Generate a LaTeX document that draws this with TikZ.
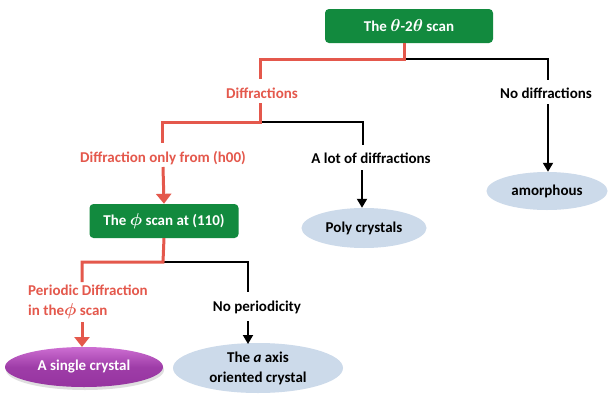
\documentclass[tikz,border=0pt]{standalone}
\usepackage{fontspec}
\setmainfont{Carlito}
\usetikzlibrary{arrows.meta,shapes.geometric,shadows}
\definecolor{gbox}{RGB}{18,138,62}
\definecolor{redl}{RGB}{228,88,76}
\definecolor{blueel}{RGB}{204,218,234}
\definecolor{purp}{RGB}{150,52,160}
\definecolor{purpl}{RGB}{205,110,210}
\newcommand{\lfont}{\bfseries\fontsize{15}{18}\selectfont\mathversion{bold}}
\newcommand{\lfontb}{\bfseries\fontsize{15}{20}\selectfont\mathversion{bold}}
\newcommand{\gsym}[1]{{\fontsize{17}{18}\selectfont$#1$}}
\tikzset{
  gnode/.style={draw=none,fill=gbox,rounded corners=4pt,text=white,font=\lfont,minimum height=34pt,inner sep=0pt},
  lab/.style={font=\lfont,inner sep=0pt},
  rlab/.style={lab,text=redl},
  bell/.style={ellipse,fill=blueel,font=\lfont,inner sep=0pt,align=center},
  rline/.style={draw=redl,line width=3pt},
  bline/.style={draw=black,line width=1.8pt},
  rarr/.style={rline,-{Triangle[width=15pt,length=10pt]}},
  barr/.style={bline,-{Triangle[width=10pt,length=9pt]}}
}
\begin{document}
\begin{tikzpicture}[x=1pt,y=-1pt]
\useasboundingbox[fill=white] (0,0) rectangle (608,399);
% nodes
\node[gnode,minimum width=168pt] (top) at (409,26) {The \gsym{\theta}-2\gsym{\theta} scan};
\node[rlab] (diff) at (262,93) {Diffractions};
\node[lab] (nodiff) at (546,93) {No diffractions};
\node[rlab] (h00) at (163,158) {Diffraction only from (h00)};
\node[lab] (alot) at (371,158) {A lot of diffractions};
\node[gnode,minimum width=149pt] (phi) at (164,221) {The \gsym{\phi} scan at (110)};
\node[bell,minimum width=125pt,minimum height=40pt] (poly) at (364,228) {Poly crystals};
\node[bell,minimum width=121pt,minimum height=38pt] (amor) at (547,191) {amorphous};
\node[rlab,align=left,anchor=west,font=\lfontb] (period) at (28,302) {Periodic Diffraction\\in the\gsym{\phi} scan};
\node[lab] (noper) at (257,307) {No periodicity};
\node[ellipse,minimum width=158pt,minimum height=40pt,inner sep=0pt,
      top color=purpl,bottom color=purp,middle color=purp!85!purpl,
      drop shadow={shadow xshift=1pt,shadow yshift=-3pt,opacity=0.25},
      text=white,font=\lfont] (single) at (84,367) {A single crystal};
\node[bell,minimum width=170pt,minimum height=50pt,font=\lfontb] (aaxis) at (258,368) {The {\itshape a} axis\\oriented crystal};
% coordinates
\coordinate (j1) at (404,59);
\coordinate (j1l) at (260,59);
\coordinate (j1r) at (548,59);
\coordinate (j2) at (260,122);
\coordinate (j2l) at (162,122);
\coordinate (j2r) at (363,122);
\coordinate (j3) at (163,262);
\coordinate (j3l) at (82,262);
\coordinate (j3r) at (248,262);
% connectors from top
\draw[bline] (j1) -- (j1r) -- (548,80);
\draw[rline] (top.south -| j1) -- (j1) -- (j1l) -- (260,79);
\draw[barr] (548,104) -- (amor.north -| 548,0);
% from Diffractions
\draw[bline] (j2) -- (j2r) -- (363,145);
\draw[rline] (260,103) -- (j2) -- (j2l) -- (162,143);
\draw[barr] (362,170) -- (poly.north -| 362,0);
\draw[rarr] (163,167) -- (phi.north);
% from phi
\draw[bline] (j3) -- (j3r) -- (248,292);
\draw[rline] (phi.south) -- (j3) -- (j3l) -- (82,282);
\draw[rarr] (82,322) -- (82,347);
\draw[barr] (248,321) -- (248,344);
\end{tikzpicture}
\end{document}
